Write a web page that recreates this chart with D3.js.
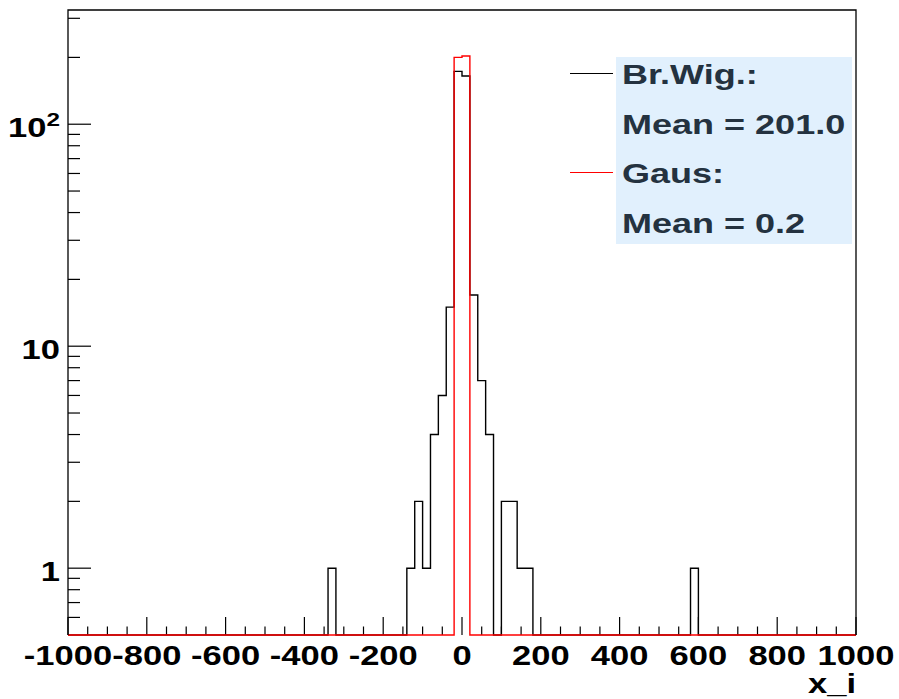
<!DOCTYPE html>
<html><head><meta charset="utf-8">
<script src="https://cdn.jsdelivr.net/npm/d3@7"></script>
<style>body{margin:0;background:#fff}svg{display:block}</style>
</head><body>
<svg id="c" width="899" height="699"></svg>
<script>
// ---- data ----
const binWidth = 20;
const xDomain = [-1000, 1000];
const yDomain = [0.5, 327];
// Breit-Wigner histogram: lower edges of non-empty bins and their counts
const bwBinLow = [-340, -140, -120, -100, -80, -60, -40, -20, 0, 20, 40, 60, 100, 120, 140, 160, 580];
const bwCounts = [1, 1, 2, 1, 4, 6, 15, 173, 165, 17, 7, 4, 2, 2, 1, 1, 1];
// Gaussian histogram
const gausBinLow = [-20, 0];
const gausCounts = [200, 203];
const xTickLabels = [-1000, -800, -600, -400, -200, 0, 200, 400, 600, 800, 1000];
const yMajorTicks = [1, 10, 100];
const legendEntries = [
  {label: "Br.Wig.:", stat: "Mean = 201.0", color: "#000000"},
  {label: "Gaus:", stat: "Mean = 0.2", color: "#ff0000"}
];
const xTitle = "x_i";

// ---- layout ----
const L = 68, R = 856, T = 10, B = 635;
const svg = d3.select("#c");
const x = d3.scaleLinear().domain(xDomain).range([L, R]);
const y = d3.scaleLog().domain(yDomain).range([B, T]);
const FONT = "'Liberation Sans', Arial, Helvetica, sans-serif";
const SX = 1.28;

// histogram step path
function histPath(lows, counts) {
  const nb = Math.round((xDomain[1] - xDomain[0]) / binWidth);
  const vals = new Array(nb).fill(0);
  lows.forEach((lo, i) => { vals[Math.round((lo - xDomain[0]) / binWidth)] = counts[i]; });
  const yv = v => v > 0 ? y(v) : B;
  let p = "M" + x(xDomain[0]) + "," + B;
  vals.forEach((v, i) => {
    const x0 = x(xDomain[0] + i * binWidth), x1 = x(xDomain[0] + (i + 1) * binWidth);
    p += "L" + x0 + "," + yv(v) + "L" + x1 + "," + yv(v);
  });
  p += "L" + x(xDomain[1]) + "," + B;
  return p;
}

// ticks x
const xMinor = d3.range(xDomain[0], xDomain[1] + 1, 50);
svg.append("g").selectAll("line").data(xMinor).join("line")
  .attr("x1", d => x(d)).attr("x2", d => x(d))
  .attr("y1", B).attr("y2", d => d % 200 === 0 ? B - 18 : B - 8.5)
  .attr("stroke", "#000").attr("stroke-width", 1.2);

// ticks y
const yMinor = [];
[0.1, 1, 10, 100].forEach(dec => { for (let k = 1; k <= 9; k++) { const v = dec * k; if (v > yDomain[0] && v < yDomain[1]) yMinor.push(v); } });
svg.append("g").selectAll("line").data(yMinor).join("line")
  .attr("x1", L).attr("x2", d => yMajorTicks.includes(d) ? L + 23 : L + 12)
  .attr("y1", d => y(d)).attr("y2", d => y(d))
  .attr("stroke", "#000").attr("stroke-width", 1.2);

// histograms
svg.append("path").attr("d", histPath(bwBinLow, bwCounts))
  .attr("fill", "none").attr("stroke", "#000").attr("stroke-width", 1.4);
svg.append("path").attr("d", histPath(gausBinLow, gausCounts))
  .attr("fill", "none").attr("stroke", "#ff0000").attr("stroke-width", 1.4);

// frame (left, top, right)
svg.append("path").attr("d", `M${L},${B}L${L},${T}L${R},${T}L${R},${B}`)
  .attr("fill", "none").attr("stroke", "#000").attr("stroke-width", 1.3);

// x labels
svg.append("g").selectAll("text").data(xTickLabels).join("text")
  .attr("transform", d => `translate(${x(d)},665) scale(${SX},1)`)
  .attr("text-anchor", "middle").attr("font-family", FONT).attr("font-weight", "bold")
  .attr("font-size", 27).attr("fill", "#000").text(d => d);

// x title
svg.append("text").attr("transform", `translate(${R},693) scale(${SX},1)`)
  .attr("text-anchor", "end").attr("font-family", FONT).attr("font-weight", "bold")
  .attr("font-size", 27).attr("fill", "#000").text(xTitle);

// y labels
yMajorTicks.forEach(v => {
  const t = svg.append("text").attr("transform", `translate(60,${y(v) + 13}) scale(${SX},1)`)
    .attr("text-anchor", "end").attr("font-family", FONT).attr("font-weight", "bold")
    .attr("font-size", 27).attr("fill", "#000");
  if (v >= 100) {
    const e = Math.round(Math.log10(v));
    t.append("tspan").text("10");
    t.append("tspan").attr("font-size", 19).attr("dy", -11).text(e);
  } else {
    t.text(v);
  }
});

// legend
const lg = svg.append("g");
lg.append("rect").attr("x", 616).attr("y", 57).attr("width", 236).attr("height", 187).attr("fill", "#e1f0fd");
legendEntries.forEach((e, i) => {
  const base = 83.5 + i * 99;
  lg.append("line").attr("x1", 570).attr("x2", 613).attr("y1", base - 10).attr("y2", base - 10)
    .attr("stroke", e.color).attr("stroke-width", 1.2);
  [e.label, e.stat].forEach((s, j) => {
    lg.append("text").attr("transform", `translate(622,${base + j * 50}) scale(1.31,1)`)
      .attr("font-family", FONT).attr("font-weight", "bold").attr("font-size", 27.5)
      .attr("fill", "#243240").text(s);
  });
});
</script>
</body></html>
